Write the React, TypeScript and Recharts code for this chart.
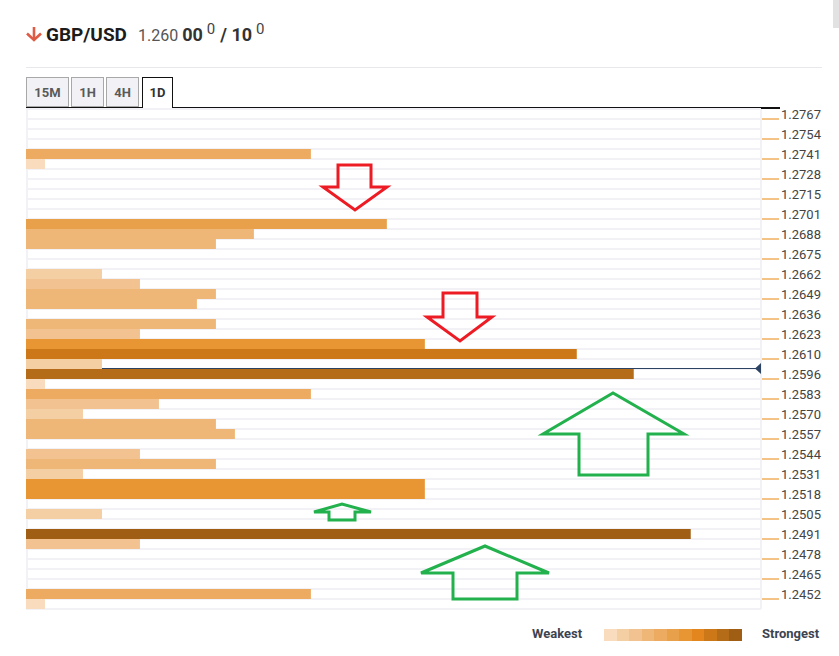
import React from 'react';
import {
  BarChart,
  Bar,
  XAxis,
  YAxis,
  CartesianGrid,
  Cell,
  ReferenceLine,
  ReferenceDot,
} from 'recharts';

// price labels shown on the right axis (one every two rows)
const priceLabels = [
  '1.2767', '1.2754', '1.2741', '1.2728', '1.2715', '1.2701', '1.2688', '1.2675', '1.2662',
  '1.2649', '1.2636', '1.2623', '1.2610', '1.2596', '1.2583', '1.2570', '1.2557', '1.2544',
  '1.2531', '1.2518', '1.2505', '1.2491', '1.2478', '1.2465', '1.2452',
];

// confluence strength of each row, top to bottom
const strength = [
  0, 0, 0, 0, 15, 1, 0, 0, 0, 0,
  0, 19, 12, 10, 0, 0, 4, 6, 10, 9,
  0, 10, 6, 21, 29, 4, 32, 1, 15, 7,
  3, 10, 11, 0, 6, 10, 3, 21, 21, 0,
  4, 0, 35, 6, 0, 0, 0, 0, 15, 1,
];

const currentPrice = 1.26;
const timeframes = ['15M', '1H', '4H', '1D'];
const scaleColors = [
  '#f8dcbd', '#f5cfa4', '#f2c390', '#efb777', '#ecab60', '#e8a04b',
  '#e89533', '#e3861d', '#cc7818', '#b56c18', '#a05e14',
];

const rows = strength.map((v, i) => ({ row: `r${i}`, value: v }));
const step = (parseFloat(priceLabels[0]) - parseFloat(priceLabels[priceLabels.length - 1])) / ((priceLabels.length - 1) * 2);
const priceTop = parseFloat(priceLabels[0]) + step / 2;
const priceBottom = parseFloat(priceLabels[0]) - step * (rows.length - 0.5);
const xMax = 38.7;

// the price line runs behind the bar of the row it falls in
const priceRow = Math.floor((priceTop - currentPrice) / step);
const lineStart = strength[priceRow] || 0;

const colorFor = (v: number) => scaleColors[Math.min(10, Math.round(v / 3.5))];

const FONT = 'Roboto, "Noto Sans", sans-serif';

const PriceTick = (props: any) => {
  const { x, y, payload } = props;
  const idx = parseInt(String(payload.value).slice(1), 10);
  if (idx % 2 !== 0) return <g />;
  return (
    <g>
      <line x1={x + 1} x2={x + 18} y1={y + 5} y2={y + 5} stroke="#e8870e" strokeWidth={1} />
      <text x={x + 20} y={y} dy="0.36em" fontSize={13} fill="#444" fontFamily={FONT}>
        {priceLabels[idx / 2]}
      </text>
    </g>
  );
};

const PriceMarker = (props: any) => {
  const { cx, cy } = props;
  return <polygon points={`${cx - 6},${cy} ${cx},${cy - 5.5} ${cx},${cy + 5.5}`} fill="#2c4364" />;
};

const arrowPath = (tipX: number, tipY: number, baseY: number, headL: number, headR: number, shaftL: number, shaftR: number, endY: number) =>
  `M${shaftL},${endY} L${shaftR},${endY} L${shaftR},${baseY} L${headR},${baseY} L${tipX},${tipY} L${headL},${baseY} L${shaftL},${baseY} Z`;

const supStyle: React.CSSProperties = { fontSize: 15, color: '#444', position: 'relative', top: -7, marginLeft: 4 };

const App: React.FC = () => {
  return (
    <div style={{ position: 'relative', width: 839, height: 656, background: '#fff', fontFamily: FONT, overflow: 'hidden' }}>
      <style>{'body{margin:0}'}</style>

      {/* header */}
      <svg width={18} height={16} style={{ position: 'absolute', left: 25, top: 26 }}>
        <line x1={9} y1={1} x2={9} y2={14} stroke="#de5b45" strokeWidth={2.6} />
        <polyline points="2,7.5 9,14 16,7.5" fill="none" stroke="#de5b45" strokeWidth={2.6} />
      </svg>
      <div style={{ position: 'absolute', left: 46, top: 22, fontSize: 19, fontWeight: 700, color: '#1c1c1c', lineHeight: '26px' }}>
        GBP/USD
      </div>
      <div style={{ position: 'absolute', left: 138, top: 22, fontSize: 16, color: '#555', lineHeight: '26px', whiteSpace: 'nowrap' }}>
        1.260{' '}
        <b style={{ color: '#333', fontSize: 18 }}>00</b>
        <span style={supStyle}>0</span>
        <b style={{ color: '#333', fontSize: 18, marginLeft: 5 }}>/ 10</b>
        <span style={supStyle}>0</span>
      </div>
      <div style={{ position: 'absolute', left: 26, top: 67, width: 796, height: 1, background: '#e8e8ec' }} />
      <div style={{ position: 'absolute', left: 833, top: 0, width: 6, height: 28, background: '#e2e2e2' }} />

      {/* timeframe tabs */}
      <div style={{ position: 'absolute', left: 26, top: 107, width: 754, height: 2, background: '#111' }} />
      {timeframes.map((t, i) => {
        const lefts = [26, 71, 106, 142];
        const widths = [43, 33, 33, 31];
        const active = t === '1D';
        return (
          <div
            key={t}
            style={{
              position: 'absolute',
              left: lefts[i],
              top: 77,
              width: widths[i],
              height: active ? 32 : 30,
              boxSizing: 'border-box',
              border: active ? '1px solid #111' : '1px solid #a8a8a8',
              borderBottom: active ? 'none' : '1px solid #a8a8a8',
              background: active ? '#fff' : '#f2f2f6',
              fontSize: 13,
              fontWeight: 700,
              color: active ? '#333' : '#5a5a5a',
              textAlign: 'center',
              lineHeight: '29px',
            }}
          >
            {t}
          </div>
        );
      })}

      {/* confluence chart */}
      <div style={{ position: 'absolute', left: 0, top: 0 }}>
        <BarChart
          width={839}
          height={656}
          data={rows}
          layout="vertical"
          margin={{ top: 109, right: 0, bottom: 47, left: 26 }}
          barCategoryGap={0}
        >
          <CartesianGrid
            stroke="#f1f1f6"
            strokeWidth={2}
            horizontalCoordinatesGenerator={({ offset }: any) =>
              rows.map((_, i) => offset.top + (i * offset.height) / rows.length).concat(offset.top + offset.height)
            }
            verticalCoordinatesGenerator={({ offset }: any) => [offset.left + 1, offset.left + offset.width]}
          />
          <XAxis type="number" domain={[0, xMax]} allowDataOverflow hide />
          <YAxis
            type="category"
            dataKey="row"
            orientation="right"
            width={78}
            interval={0}
            axisLine={false}
            tickLine={false}
            tickSize={0}
            tickMargin={0}
            tick={<PriceTick />}
          />
          <YAxis
            yAxisId="price"
            type="number"
            dataKey={() => currentPrice}
            domain={[priceBottom, priceTop]}
            allowDataOverflow
            reversed
            hide
          />
          <Bar dataKey="value" isAnimationActive={false}>
            {rows.map((r) => (
              <Cell key={r.row} fill={colorFor(r.value)} />
            ))}
          </Bar>
          <ReferenceLine
            yAxisId="price"
            segment={[{ x: lineStart, y: currentPrice }, { x: xMax, y: currentPrice }]}
            stroke="#2c4364"
            strokeWidth={1.2}
          />
          <ReferenceDot x={xMax} y={currentPrice} yAxisId="price" r={0} shape={<PriceMarker />} />
        </BarChart>
      </div>

      {/* hand-drawn annotations */}
      <svg width={839} height={656} style={{ position: 'absolute', left: 0, top: 0, pointerEvents: 'none' }}>
        <g fill="none" strokeWidth={3} strokeLinejoin="miter">
          <path d={arrowPath(355, 210, 187, 323, 387, 338, 371, 165)} stroke="#ed1c24" />
          <path d={arrowPath(460, 341, 317, 427, 492, 443, 477, 293)} stroke="#ed1c24" />
          <path d={arrowPath(613, 393, 434, 543, 684, 579, 648, 475)} stroke="#22b14c" />
          <path d={arrowPath(485, 546, 573, 421, 549, 453, 517, 599)} stroke="#22b14c" />
          <path d={arrowPath(342, 504, 512, 314, 371, 329, 355, 520)} stroke="#22b14c" />
        </g>
      </svg>

      {/* strength legend */}
      <div style={{ position: 'absolute', left: 532, top: 626, fontSize: 13, fontWeight: 700, color: '#3d4451', lineHeight: '16px' }}>
        Weakest
      </div>
      <div style={{ position: 'absolute', left: 604, top: 629, display: 'flex' }}>
        {scaleColors.map((c) => (
          <div key={c} style={{ width: 12.55, height: 12, background: c }} />
        ))}
      </div>
      <div style={{ position: 'absolute', left: 762, top: 626, fontSize: 13, fontWeight: 700, color: '#3d4451', lineHeight: '16px' }}>
        Strongest
      </div>
    </div>
  );
};

export default App;
